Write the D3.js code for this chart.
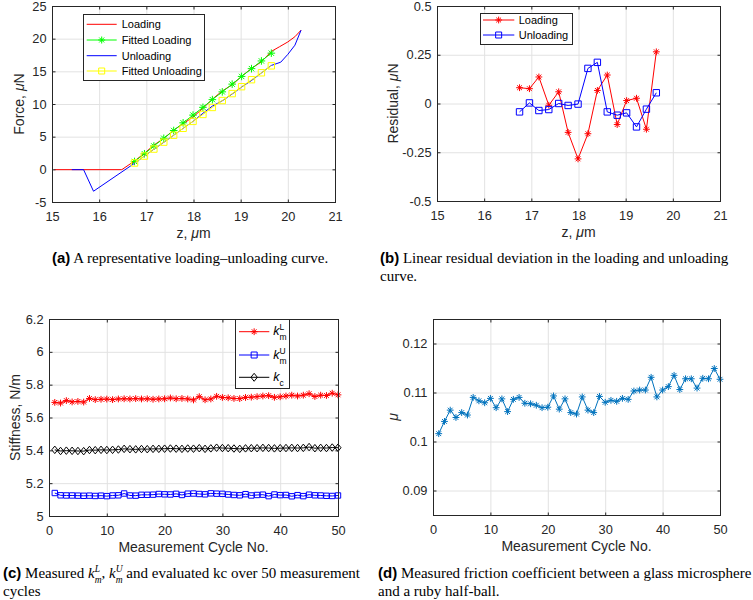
<!DOCTYPE html>
<html><head><meta charset="utf-8">
<script src="https://cdn.jsdelivr.net/npm/d3@7"></script>
<style>body{margin:0;background:#fff}svg{display:block}text{white-space:pre}</style>
</head><body>
<svg id="chart" width="753" height="600"></svg>
<script>
// ---------------- data ----------------
// (a) loading-unloading curve
const zFit = [16.75,16.96,17.16,17.37,17.58,17.78,17.99,18.20,18.40,18.61,18.82,19.02,19.23,19.44,19.65];
const fittedLoading = [1.20,2.38,3.57,4.75,5.94,7.12,8.30,9.49,10.67,11.86,13.04,14.22,15.41,16.59,17.78];
const fittedUnloading = [0.97,2.03,3.10,4.16,5.22,6.28,7.34,8.40,9.47,10.53,11.59,12.65,13.72,14.78,15.84];
const loadingZ = [15.05,16.48,16.75,16.96,17.16,17.37,17.58,17.78,17.99,18.20,18.40,18.61,18.82,19.02,19.23,19.44,19.65,19.82,20.00,20.15,20.28];
const loadingF = [-0.05,-0.05,1.28,2.46,3.71,4.74,6.00,6.97,8.02,9.33,10.74,12.00,12.93,14.24,15.44,16.46,18.05,18.75,19.50,20.30,21.30];
const unloadingZ = [20.28,20.15,20.00,19.85,19.65,19.44,19.23,19.02,18.82,18.61,18.40,18.20,17.99,17.78,17.58,17.37,17.16,16.96,16.75,15.88,15.67,15.42];
const unloadingF = [21.30,19.00,17.60,16.40,15.90,14.75,13.60,12.60,11.53,10.49,9.68,8.58,7.34,6.27,5.22,4.13,3.07,2.03,0.93,-3.35,-0.05,-0.05];
// (b) residuals
const residualLoading = [0.081,0.076,0.136,-0.009,0.060,-0.148,-0.284,-0.155,0.067,0.146,-0.108,0.015,0.027,-0.132,0.265];
const residualUnloading = [-0.043,0.003,-0.036,-0.031,0.000,-0.010,-0.003,0.180,0.211,-0.043,-0.060,-0.048,-0.120,-0.029,0.055];
// (c) stiffness over 50 cycles
const cycles = [1,2,3,4,5,6,7,8,9,10,11,12,13,14,15,16,17,18,19,20,21,22,23,24,25,26,27,28,29,30,31,32,33,34,35,36,37,38,39,40,41,42,43,44,45,46,47,48,49,50];
const kmL = [5.692,5.688,5.703,5.695,5.698,5.694,5.716,5.709,5.711,5.712,5.709,5.713,5.714,5.713,5.715,5.713,5.714,5.711,5.713,5.714,5.719,5.714,5.716,5.713,5.707,5.727,5.708,5.713,5.729,5.722,5.720,5.716,5.715,5.722,5.724,5.727,5.731,5.733,5.723,5.726,5.731,5.736,5.731,5.736,5.745,5.728,5.736,5.734,5.748,5.738];
const kmU = [5.140,5.126,5.125,5.125,5.124,5.123,5.124,5.122,5.124,5.121,5.125,5.126,5.137,5.125,5.124,5.129,5.129,5.130,5.134,5.132,5.131,5.135,5.128,5.136,5.137,5.134,5.132,5.138,5.136,5.135,5.131,5.128,5.126,5.133,5.125,5.128,5.130,5.121,5.131,5.127,5.128,5.120,5.127,5.121,5.130,5.126,5.125,5.123,5.122,5.125];
const kc = [5.403,5.396,5.398,5.397,5.396,5.395,5.402,5.401,5.403,5.402,5.403,5.405,5.409,5.407,5.406,5.408,5.407,5.409,5.409,5.410,5.411,5.410,5.409,5.411,5.410,5.413,5.409,5.412,5.416,5.414,5.413,5.411,5.409,5.412,5.413,5.413,5.415,5.414,5.412,5.413,5.414,5.415,5.414,5.415,5.420,5.413,5.415,5.414,5.417,5.416];
// (d) friction coefficient
const mu = [0.1016,0.1041,0.1064,0.1049,0.1059,0.1054,0.1090,0.1083,0.1079,0.1088,0.1069,0.1087,0.1061,0.1086,0.1090,0.1078,0.1077,0.1074,0.1069,0.1070,0.1093,0.1066,0.1087,0.1059,0.1056,0.1091,0.1064,0.1059,0.1092,0.1080,0.1084,0.1082,0.1088,0.1086,0.1103,0.1105,0.1105,0.1131,0.1091,0.1105,0.1112,0.1135,0.1106,0.1128,0.1128,0.1109,0.1129,0.1128,0.1149,0.1127];
// ticks
const zTicks = [15,16,17,18,19,20,21];
const zTickLabels = ["15","16","17","18","19","20","21"];
const forceTicks = [-5,0,5,10,15,20,25];
const forceTickLabels = ["-5","0","5","10","15","20","25"];
const resTicks = [-0.5,-0.25,0,0.25,0.5];
const resTickLabels = ["-0.5","-0.25","0","0.25","0.5"];
const cycleTicks = [0,10,20,30,40,50];
const cycleTickLabels = ["0","10","20","30","40","50"];
const stiffTicks = [5,5.2,5.4,5.6,5.8,6,6.2];
const stiffTickLabels = ["5","5.2","5.4","5.6","5.8","6","6.2"];
const muTicks = [0.09,0.10,0.11,0.12];
const muTickLabels = ["0.09","0.1","0.11","0.12"];

// ---------------- style ----------------
const SANS = '"Liberation Sans", Arial, Helvetica, sans-serif';
const SANS_NARROW = '"Liberation Sans Narrow", "Liberation Sans", Arial, sans-serif';
const SERIF = '"Liberation Serif", "Times New Roman", serif';
const TICK_FONT = 12.8, LABEL_FONT = 14, LEG_FONT = 11, CAP_FONT = 15;
const AXIS_COLOR = '#262626', GRID_COLOR = '#e2e2e2';
const svg = d3.select('#chart');

function markerPath(type, r) {
  if (type === 'asterisk') { const d = r * 0.7071;
    return `M${-r},0H${r}M0,${-r}V${r}M${-d},${-d}L${d},${d}M${-d},${d}L${d},${-d}`; }
  if (type === 'square') return `M${-r},${-r}h${2*r}v${2*r}h${-2*r}Z`;
  if (type === 'diamond') return `M0,${-r*1.25}L${r},0L0,${r*1.25}L${-r},0Z`;
  return '';
}

function panel(box, xDomain, yDomain) {
  const x = d3.scaleLinear().domain(xDomain).range([box.x0, box.x1]);
  const y = d3.scaleLinear().domain(yDomain).range([box.y1, box.y0]);
  const g = svg.append('g');
  return {g, x, y, box};
}

function grid(p, xTicks, yTicks) {
  const {g, x, y, box} = p;
  g.append('g').attr('transform', `translate(0,${box.y0})`)
    .call(d3.axisBottom(x).tickValues(xTicks).tickSize(box.y1 - box.y0).tickFormat(''))
    .call(s => { s.select('.domain').remove(); s.selectAll('line').attr('stroke', GRID_COLOR); });
  g.append('g').attr('transform', `translate(${box.x0},0)`)
    .call(d3.axisRight(y).tickValues(yTicks).tickSize(box.x1 - box.x0).tickFormat(''))
    .call(s => { s.select('.domain').remove(); s.selectAll('line').attr('stroke', GRID_COLOR); });
}

function axes(p, xTicks, xLabels, yTicks, yLabels, xTitle, yTitle, yTitleX) {
  const {g, x, y, box} = p;
  const style = s => { s.select('.domain').remove();
    s.selectAll('line').attr('stroke', AXIS_COLOR);
    s.selectAll('text').attr('fill', AXIS_COLOR).style('font-family', SANS).style('font-size', TICK_FONT + 'px'); };
  g.append('g').attr('transform', `translate(0,${box.y1 + 0.5})`)
    .call(d3.axisBottom(x).tickValues(xTicks).tickSizeInner(-3).tickSizeOuter(0).tickPadding(9.5).tickFormat((d, i) => xLabels[i])).call(style);
  g.append('g').attr('transform', `translate(0,${box.y0 + 0.5})`)
    .call(d3.axisTop(x).tickValues(xTicks).tickSizeInner(-3).tickSizeOuter(0).tickFormat('')).call(style);
  g.append('g').attr('transform', `translate(${box.x0 + 0.5},0)`)
    .call(d3.axisLeft(y).tickValues(yTicks).tickSizeInner(-3).tickSizeOuter(0).tickPadding(6).tickFormat((d, i) => yLabels[i])).call(style);
  g.append('g').attr('transform', `translate(${box.x1 + 0.5},0)`)
    .call(d3.axisRight(y).tickValues(yTicks).tickSizeInner(-3).tickSizeOuter(0).tickFormat('')).call(style);
  g.append('rect').attr('x', box.x0 + 0.5).attr('y', box.y0 + 0.5)
    .attr('width', box.x1 - box.x0).attr('height', box.y1 - box.y0)
    .attr('fill', 'none').attr('stroke', AXIS_COLOR).attr('stroke-width', 1);
  const xt = g.append('text').attr('x', (box.x0 + box.x1) / 2).attr('y', box.y1 + 36)
    .attr('text-anchor', 'middle').attr('fill', AXIS_COLOR)
    .style('font-family', SANS).style('font-size', LABEL_FONT + 'px');
  xTitle.forEach(r => xt.append('tspan').text(r.t).style('font-style', r.i ? 'italic' : 'normal'));
  const yt = g.append('text')
    .attr('transform', `translate(${yTitleX},${(box.y0 + box.y1) / 2}) rotate(-90)`)
    .attr('text-anchor', 'middle').attr('fill', AXIS_COLOR)
    .style('font-family', SANS).style('font-size', LABEL_FONT + 'px');
  yTitle.forEach(r => yt.append('tspan').text(r.t).style('font-style', r.i ? 'italic' : 'normal'));
}

function series(p, xs, ys, color, marker, r) {
  const {g, x, y} = p;
  const pts = xs.map((v, i) => [v, ys[i]]);
  g.append('path').datum(pts)
    .attr('d', d3.line().x(d => x(d[0])).y(d => y(d[1])))
    .attr('fill', 'none').attr('stroke', color).attr('stroke-width', 1);
  if (marker) g.append('g').selectAll('path').data(pts).enter().append('path')
    .attr('transform', d => `translate(${x(d[0])},${y(d[1])})`)
    .attr('d', markerPath(marker, r)).attr('fill', 'none').attr('stroke', color).attr('stroke-width', 1);
}

// measure a run's width with a temporary text element
function measure(r, baseSize, baseFamily) {
  const t = svg.append('text').style('font-family', r.sans ? SANS_NARROW : baseFamily)
    .style('font-weight', r.b ? 'bold' : 'normal').style('font-style', r.i ? 'italic' : 'normal')
    .style('font-size', (r.size || baseSize) + 'px').text(r.t);
  const w = t.node().getComputedTextLength();
  t.remove();
  return w;
}

// one text element per line; runs may be shifted (sup/sub) and stacked (back: move back over previous run)
function richLine(parent, x, y, runs, baseSize, baseFamily, fill) {
  const t = parent.append('text').attr('x', x).attr('y', y).attr('fill', fill)
    .style('font-family', baseFamily).style('font-size', baseSize + 'px');
  let cur = 0, prevW = 0;
  runs.forEach(r => {
    const s = t.append('tspan').text(r.t)
      .style('font-family', r.sans ? SANS_NARROW : baseFamily)
      .style('font-weight', r.b ? 'bold' : 'normal').style('font-style', r.i ? 'italic' : 'normal')
      .style('font-size', (r.size || baseSize) + 'px');
    const shift = r.shift || 0;
    if (shift !== cur) { s.attr('dy', shift - cur); cur = shift; }
    if (r.back) s.attr('dx', -prevW);
    prevW = measure(r, baseSize, baseFamily);
  });
  return t;
}

function legend(rect, entries, lineX0, lineX1, textX) {
  const g = svg.append('g');
  g.append('rect').attr('x', rect[0] + 0.5).attr('y', rect[1] + 0.5).attr('width', rect[2]).attr('height', rect[3])
    .attr('fill', '#fff').attr('stroke', AXIS_COLOR).attr('stroke-width', 1);
  entries.forEach(e => {
    g.append('line').attr('x1', lineX0).attr('x2', lineX1).attr('y1', e.y).attr('y2', e.y)
      .attr('stroke', e.color).attr('stroke-width', 1);
    if (e.marker) g.append('path').attr('transform', `translate(${(lineX0 + lineX1) / 2},${e.y})`)
      .attr('d', markerPath(e.marker, e.r)).attr('fill', 'none').attr('stroke', e.color).attr('stroke-width', 1);
    if (e.label) g.append('text').attr('x', textX).attr('y', e.y + 4).attr('fill', '#000')
      .style('font-family', SANS).style('font-size', LEG_FONT + 'px').text(e.label);
    if (e.runs) richLine(g, textX, e.y + 3.6, e.runs, LEG_FONT + 1.5, SANS, '#000');
  });
}

function caption(x, y, lines, lh) {
  lines.forEach((runs, k) => richLine(svg, x, y + k * lh, runs, CAP_FONT, SERIF, '#000'));
}

// ---------------- panel (a) ----------------
const pa = panel({x0: 52, x1: 335, y0: 6, y1: 202}, [15, 21], [-5, 25]);
grid(pa, zTicks, forceTicks);
series(pa, loadingZ, loadingF, '#ff0000', null);
series(pa, zFit, fittedLoading, '#00ff00', 'asterisk', 3.8);
series(pa, unloadingZ, unloadingF, '#0000ff', null);
series(pa, zFit, fittedUnloading, '#ffff00', 'square', 3.2);
axes(pa, zTicks, zTickLabels, forceTicks, forceTickLabels,
  [{t: 'z, '}, {t: 'μ', i: 1}, {t: 'm'}], [{t: 'Force, '}, {t: 'μ', i: 1}, {t: 'N'}], 24);
legend([83, 14, 121, 66], [
  {y: 24.3, color: '#ff0000', label: 'Loading'},
  {y: 40, color: '#00ff00', marker: 'asterisk', r: 3.5, label: 'Fitted Loading'},
  {y: 55.7, color: '#0000ff', label: 'Unloading'},
  {y: 71, color: '#ffff00', marker: 'square', r: 3, label: 'Fitted Unloading'}
], 86.7, 116.7, 121.7);

// ---------------- panel (b) ----------------
const pb = panel({x0: 437, x1: 720, y0: 6, y1: 201}, [15, 21], [-0.5, 0.5]);
grid(pb, zTicks, resTicks);
series(pb, zFit, residualLoading, '#ff0000', 'asterisk', 3.4);
series(pb, zFit, residualUnloading, '#0000ff', 'square', 3.2);
axes(pb, zTicks, zTickLabels, resTicks, resTickLabels,
  [{t: 'z, '}, {t: 'μ', i: 1}, {t: 'm'}], [{t: 'Residual, '}, {t: 'μ', i: 1}, {t: 'N'}], 398);
legend([480, 13, 92, 31], [
  {y: 20, color: '#ff0000', marker: 'asterisk', r: 3.4, label: 'Loading'},
  {y: 35, color: '#0000ff', marker: 'square', r: 3, label: 'Unloading'}
], 483, 514.3, 518.7);

// ---------------- panel (c) ----------------
const pc = panel({x0: 49, x1: 338, y0: 319, y1: 516}, [0, 50], [5, 6.2]);
grid(pc, cycleTicks, stiffTicks);
series(pc, cycles, kmL, '#ff0000', 'asterisk', 3.4);
series(pc, cycles, kmU, '#0000ff', 'square', 2.7);
series(pc, cycles, kc, '#000000', 'diamond', 3);
axes(pc, cycleTicks, cycleTickLabels, stiffTicks, stiffTickLabels,
  [{t: 'Measurement Cycle No.'}], [{t: 'Stiffness, N/m'}], 20);
legend([235, 319, 54, 69], [
  {y: 331.7, color: '#ff0000', marker: 'asterisk', r: 3.4,
    runs: [{t: 'k', i: 1}, {t: 'L', size: 8.5, shift: -5}, {t: 'm', size: 8.5, shift: 5, back: 1}]},
  {y: 355, color: '#0000ff', marker: 'square', r: 3,
    runs: [{t: 'k', i: 1}, {t: 'U', size: 8.5, shift: -5}, {t: 'm', size: 8.5, shift: 5, back: 1}]},
  {y: 377.3, color: '#000000', marker: 'diamond', r: 3.2,
    runs: [{t: 'k', i: 1}, {t: 'c', size: 8.5, shift: 4.6}]}
], 239, 269.3, 273.3);

// ---------------- panel (d) ----------------
const pd = panel({x0: 433, x1: 720, y0: 319, y1: 515}, [0, 50], [0.085, 0.125]);
grid(pd, cycleTicks, muTicks);
series(pd, cycles, mu, '#0072bd', 'asterisk', 3.4);
axes(pd, cycleTicks, cycleTickLabels, muTicks, muTickLabels,
  [{t: 'Measurement Cycle No.'}], [{t: 'μ', i: 1}], 398);

// ---------------- captions ----------------
caption(52, 263, [[{t: '(a)', sans: 1, b: 1}, {t: ' A representative loading–unloading curve.'}]], 18);
caption(380, 263, [[{t: '(b)', sans: 1, b: 1}, {t: ' Linear residual deviation in the loading and unloading'}],
  [{t: 'curve.'}]], 18);
caption(3, 578, [[{t: '(c)', sans: 1, b: 1}, {t: ' Measured '},
  {t: 'k', i: 1}, {t: 'L', i: 1, size: 9.5, shift: -6}, {t: 'm', i: 1, size: 9.5, shift: 5, back: 1},
  {t: ', '}, {t: 'k', i: 1}, {t: 'U', i: 1, size: 9.5, shift: -6}, {t: 'm', i: 1, size: 9.5, shift: 5, back: 1},
  {t: ' and evaluated kc over 50 measurement'}],
  [{t: 'cycles'}]], 18);
caption(378, 578, [[{t: '(d)', sans: 1, b: 1}, {t: ' Measured friction coefficient between a glass microsphere'}],
  [{t: 'and a ruby half-ball.'}]], 18);
</script>
</body></html>
